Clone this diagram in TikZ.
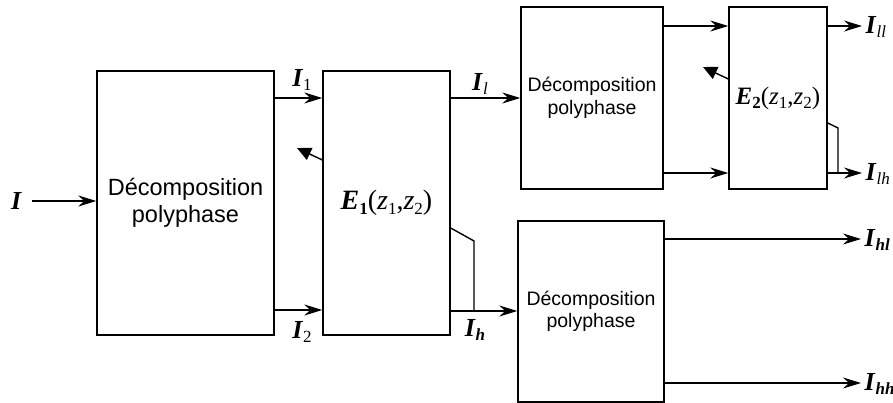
\documentclass[tikz,border=0pt]{standalone}
\usepackage{fontspec}
\setmainfont{Liberation Serif}
\setsansfont{Liberation Sans}
\usetikzlibrary{arrows.meta,positioning,calc}
\newcommand{\vect}[1]{\textbf{\textit{#1}}}
\newcommand{\sub}[1]{\raisebox{-0.35ex}{\fontsize{17}{17}\selectfont #1}}

\begin{document}
\begin{tikzpicture}[x=1pt,y=-1pt,
  line width=1.4pt,
  bigblock/.style={draw,align=center,inner sep=0pt,
                   font=\sffamily\fontsize{23.5}{27}\selectfont},
  smallblock/.style={draw,align=center,inner sep=0pt,
                     font=\sffamily\fontsize{19.5}{22.5}\selectfont},
  lab/.style={inner sep=3pt,font=\fontsize{26}{28}\selectfont},
  flow/.style={-{Stealth[length=18pt,width=11pt,inset=6pt]}},
  back/.style={-{Triangle[length=14pt,width=13pt]}}
]
\useasboundingbox (0,0) rectangle (893,403);

% first level
\node[bigblock,minimum width=177pt,minimum height=264pt] (dec1) at (185.5,203) {Décomposition\\polyphase};
\node[bigblock,minimum width=127pt,minimum height=264pt,font=\fontsize{28}{30}\selectfont]
  (E1) at (386.5,203) {\vect{E}\sub{\textbf{1}}(\textit{z}\sub{1},\textit{z}\sub{2})};

% second level
\node[smallblock,minimum width=142pt,minimum height=182pt] (dec2) at (592,98) {Décomposition\\polyphase};
\node[smallblock,minimum width=98pt,minimum height=182pt,font=\fontsize{25}{27}\selectfont]
  (E2) at (778,98) {\vect{E}\sub{\textbf{2}}(\textit{z}\sub{1},\textit{z}\sub{2})};
\node[smallblock,minimum width=146pt,minimum height=181pt] (dec3) at (591,311.5) {Décomposition\\polyphase};

% signals
\node[lab] (I) at (16.5,201) {\vect{I}};
\node[lab] (I1) at (302,80) {\vect{I}\sub{1}};
\node[lab] (I2) at (302,332) {\vect{I}\sub{2}};
\node[lab] (Il) at (480,84) {\vect{I}\sub{\textit{l}}};
\node[lab] (Ih) at (475,330) {\vect{I}\sub{\vect{h}}};
\node[lab,anchor=west] (Ill) at (862,27) {\vect{I}\sub{\textit{ll}}};
\node[lab,anchor=west] (Ilh) at (862,174) {\vect{I}\sub{\textit{lh}}};
\node[lab,anchor=west] (Ihl) at (861,240) {\vect{I}\sub{\vect{hl}}};
\node[lab,anchor=west] (Ihh) at (861,384) {\vect{I}\sub{\vect{hh}}};

\coordinate (fb1) at (297,148);
\coordinate (fb2) at (703,67);
\coordinate (sw1) at (474,241);
\coordinate (sw2) at (838,128);

\draw[flow] (I.east) ++(6,0) -- (I -| dec1.west);
\draw[flow] (dec1.east |- 0,98) -- (E1.west |- 0,98);
\draw[flow] (dec1.east |- 0,310) -- (E1.west |- 0,310);
\draw[back] (E1.west |- 0,160) -- (fb1);
\draw[flow] (E1.east |- 0,98) -- (dec2.west |- 0,98);
\draw[flow] (E1.east |- 0,311) -- (dec3.west |- 0,311);
\draw (E1.east |- 0,228) -- (sw1) -- (sw1 |- 0,311);

\draw[flow] (dec2.east |- 0,26) -- (E2.west |- 0,26);
\draw[flow] (dec2.east |- 0,173) -- (E2.west |- 0,173);
\draw[back] (E2.west |- 0,79) -- (fb2);
\draw[flow] (E2.east |- 0,26) -- (Ill.west |- 0,26);
\draw[flow] (E2.east |- 0,173) -- (Ilh.west |- 0,173);
\draw (E2.east |- 0,123) -- (sw2) -- (sw2 |- 0,173);

\draw[flow] (dec3.east |- 0,239) -- (Ihl.west |- 0,239);
\draw[flow] (dec3.east |- 0,383) -- (Ihh.west |- 0,383);
\end{tikzpicture}
\end{document}
